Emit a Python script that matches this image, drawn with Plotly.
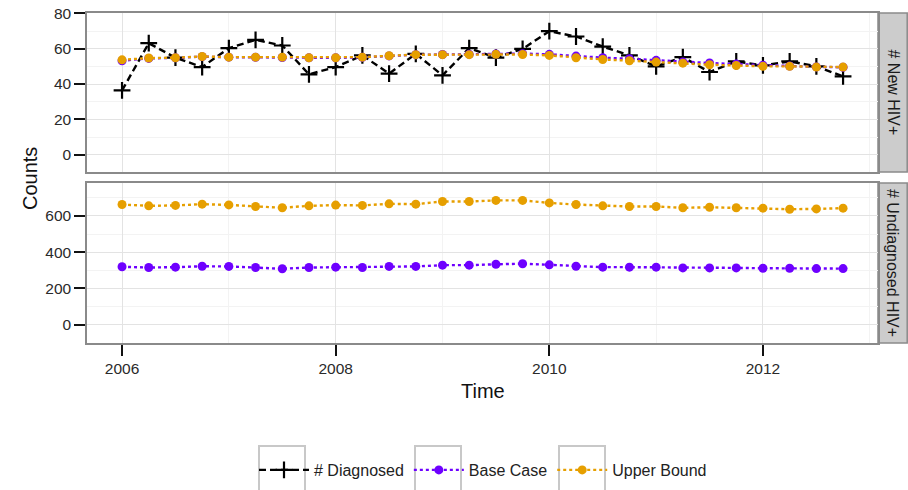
import plotly.graph_objects as go

# ---- data ----
time = [2006 + 0.25 * i for i in range(28)]

diagnosed = [36.4, 63.1, 54.9, 49.6, 60.3, 65.0, 61.8, 45.5, 49.6, 56.2, 45.9, 57.1, 44.9, 60.3,
             54.9, 59.9, 69.9, 66.9, 61.2, 56.2, 50.0, 55.2, 46.8, 52.8, 50.5, 52.8, 50.0, 44.3]

new_base = [53.2, 54.5, 54.8, 55.5, 55.2, 55.1, 55.0, 54.8, 54.8, 55.1, 55.9, 56.6, 56.7, 56.8,
            57.0, 57.2, 56.8, 55.8, 54.9, 54.3, 53.4, 52.5, 51.9, 51.3, 50.6, 50.2, 49.7, 49.5]
new_upper = [53.7, 54.7, 54.9, 55.6, 55.2, 55.2, 55.2, 54.9, 54.9, 55.2, 56.0, 56.6, 56.6, 56.6,
             56.8, 56.7, 56.2, 54.9, 53.9, 53.2, 52.4, 51.8, 50.9, 50.5, 50.0, 50.0, 49.6, 49.6]

und_base = [319, 315, 317, 322, 321, 315, 308, 315, 317, 315, 321, 321, 328, 328,
            333, 336, 330, 322, 317, 317, 317, 313, 313, 313, 311, 311, 309, 309]
und_upper = [663, 656, 658, 665, 661, 652, 645, 656, 660, 658, 667, 665, 680, 680,
             686, 686, 672, 663, 656, 652, 652, 645, 648, 645, 643, 637, 639, 643]

series_names = ["# Diagnosed", "Base Case", "Upper Bound"]
panel_labels = ["# New HIV+", "# Undiagnosed HIV+"]
x_ticks = [2006, 2008, 2010, 2012]
top_ticks = [0, 20, 40, 60, 80]
bot_ticks = [0, 200, 400, 600]

# ---- style ----
C_DIAG = "#000000"
C_BASE = "#6E00FF"
C_UPPER = "#E69F00"
FONT = "Liberation Sans, Arial, sans-serif"

fig = go.Figure()

fig.add_trace(go.Scatter(x=time, y=diagnosed, name=series_names[0], mode="lines+markers",
                         line=dict(color=C_DIAG, width=2.4, dash="7px,4px"),
                         marker=dict(symbol="cross-thin", size=12, line=dict(width=2.2, color=C_DIAG)),
                         xaxis="x", yaxis="y", legendrank=1))
fig.add_trace(go.Scatter(x=time, y=new_base, name=series_names[1], mode="lines+markers",
                         line=dict(color=C_BASE, width=2.4, dash="dot"),
                         marker=dict(symbol="circle", size=9, color=C_BASE),
                         xaxis="x", yaxis="y", legendrank=2))
fig.add_trace(go.Scatter(x=time, y=new_upper, name=series_names[2], mode="lines+markers",
                         line=dict(color=C_UPPER, width=2.4, dash="dot"),
                         marker=dict(symbol="circle", size=9, color=C_UPPER),
                         xaxis="x", yaxis="y", legendrank=3))
fig.add_trace(go.Scatter(x=time, y=und_base, name=series_names[1], mode="lines+markers",
                         line=dict(color=C_BASE, width=2.4, dash="dot"),
                         marker=dict(symbol="circle", size=9, color=C_BASE),
                         xaxis="x2", yaxis="y2", showlegend=False))
fig.add_trace(go.Scatter(x=time, y=und_upper, name=series_names[2], mode="lines+markers",
                         line=dict(color=C_UPPER, width=2.4, dash="dot"),
                         marker=dict(symbol="circle", size=9, color=C_UPPER),
                         xaxis="x2", yaxis="y2", showlegend=False))

W, H = 908, 490
ML, MR, MT, MB = 87, 30, 13, 147
pw = W - ML - MR
ph = H - MT - MB
top_dom = [(343 - 172) / ph, 1.0]
bot_dom = [0.0, (343 - 183) / ph]

xrange_ = [2005.672, 2013.077]
grid = "#E3E3E3"
minor_grid = "#F3F3F3"
border = "#8A8A8A"
TICKFONT = dict(size=15.5, color="#2a2a2a")

xcommon = dict(range=xrange_, showgrid=True, gridcolor=grid, gridwidth=1.4,
               minor=dict(dtick=1, tick0=2007, showgrid=True, gridcolor=minor_grid, gridwidth=1.2),
               tickvals=x_ticks, zeroline=False, showline=True, linecolor=border, linewidth=1.5,
               mirror=True, automargin=False)

ycommon = dict(showgrid=True, gridcolor=grid, gridwidth=1.4, zeroline=False, showline=True,
               linecolor=border, linewidth=1.5, mirror=True, ticks="outside", ticklen=11,
               tickwidth=2, tickcolor="#111", tickfont=TICKFONT, automargin=False)

fig.update_layout(
    template="none",
    autosize=False,
    width=W, height=H,
    margin=dict(l=ML, r=MR, t=MT, b=MB),
    paper_bgcolor="white", plot_bgcolor="white",
    font=dict(family=FONT, size=16, color="#222222"),
    xaxis=dict(**xcommon, anchor="y", matches="x2", showticklabels=False, ticks=""),
    xaxis2=dict(**xcommon, anchor="y2", ticks="outside", ticklen=11, tickwidth=2, tickcolor="#111",
                tickfont=TICKFONT),
    yaxis=dict(**ycommon, domain=top_dom, range=[-9.8, 80.2], tickvals=top_ticks,
               minor=dict(dtick=20, tick0=10, showgrid=True, gridcolor=minor_grid, gridwidth=1.2)),
    yaxis2=dict(**ycommon, domain=bot_dom, range=[-102, 782], tickvals=bot_ticks,
                minor=dict(dtick=200, tick0=100, showgrid=True, gridcolor=minor_grid, gridwidth=1.2)),
    legend=dict(orientation="h", xref="container", yref="container",
                x=483 / W, xanchor="center", y=(H - 470) / H, yanchor="middle",
                font=dict(size=16, color="#222"), itemwidth=50, traceorder="normal",
                bgcolor="rgba(0,0,0,0)"),
    showlegend=True,
)

# facet strips
sx1 = (W - ML) / pw
for dom, label in [(top_dom, panel_labels[0]), (bot_dom, panel_labels[1])]:
    fig.add_shape(type="rect", xref="paper", yref="paper", x0=1.0, x1=sx1 - 0.001, y0=dom[0], y1=dom[1],
                  fillcolor="#CCCCCC", line=dict(color=border, width=1.5), layer="below")
    fig.add_annotation(xref="paper", yref="paper", x=(1.0 + sx1) / 2, y=(dom[0] + dom[1]) / 2,
                       text=label, textangle=90, showarrow=False,
                       font=dict(size=16, color="#1a1a1a"), xanchor="center", yanchor="middle")

# ggplot-style legend key boxes (decoration)
for bx in [259, 415, 559]:
    fig.add_shape(type="rect", xref="paper", yref="paper",
                  x0=(bx - ML) / pw, x1=(bx + 46 - ML) / pw,
                  y0=(343 - 496) / ph, y1=(343 - 446) / ph,
                  fillcolor="rgba(0,0,0,0)", line=dict(color="#C8C8C8", width=2), layer="below")

# axis titles
fig.add_annotation(xref="paper", yref="paper", x=(30 - ML) / pw, y=(343 - 178) / ph, text="Counts",
                   textangle=-90, showarrow=False, font=dict(size=20, color="#111"),
                   xanchor="center", yanchor="middle")
fig.add_annotation(xref="paper", yref="paper", x=(483 - ML) / pw, y=(343 - 391) / ph, text="Time",
                   showarrow=False, font=dict(size=20, color="#111"), xanchor="center", yanchor="middle")

fig.write_html("out.html", config=dict(displayModeBar=False, responsive=False),
               post_script="document.body.style.margin='0';document.body.style.overflow='hidden';")
